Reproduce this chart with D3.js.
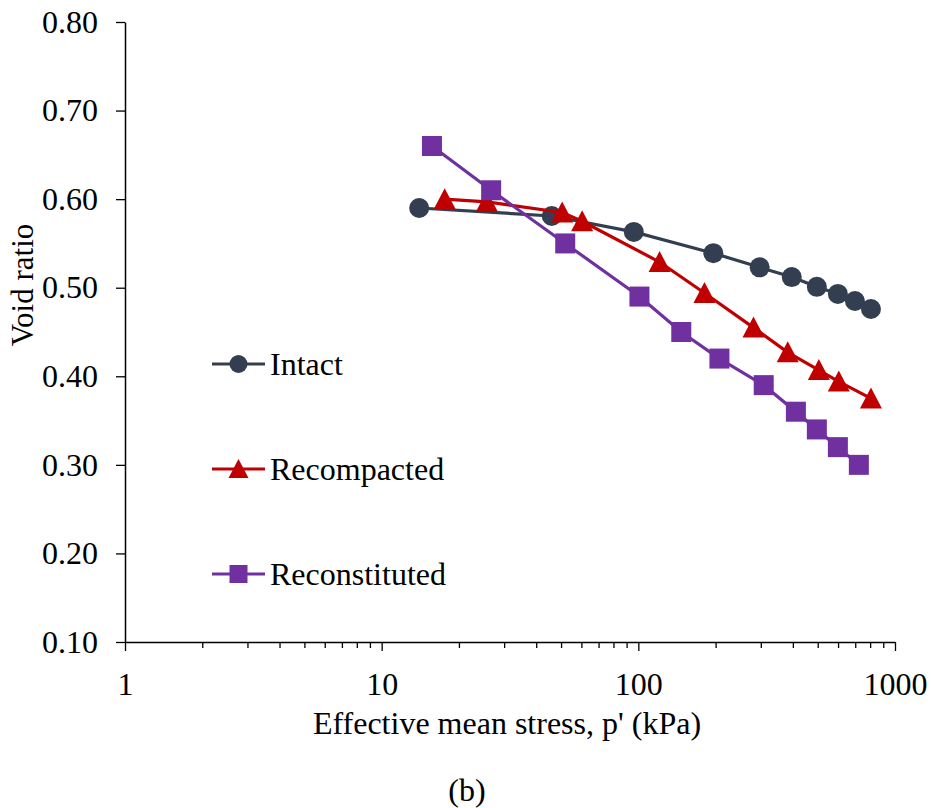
<!DOCTYPE html>
<html>
<head>
<meta charset="utf-8">
<script src="https://cdn.jsdelivr.net/npm/d3@7"></script>
<style>
  body { margin: 0; background: #fff; }
  svg { display: block; }
  text { font-family: "Liberation Serif", "Times New Roman", serif; fill: #000; }
</style>
</head>
<body>
<svg id="chart"></svg>
<script>
// data
const intactP = [14, 46, 96, 196, 297, 396, 496, 599, 698, 806];
const intactE = [0.590, 0.581, 0.563, 0.539, 0.523, 0.512, 0.501, 0.493, 0.485, 0.476];
const recompP = [17.6, 25.7, 50.5, 60.4, 121, 181, 281, 382, 505, 604, 806];
const recompE = [0.600, 0.597, 0.585, 0.575, 0.529, 0.494, 0.455, 0.427, 0.407, 0.394, 0.375];
const reconP = [15.7, 26.7, 51.9, 101, 147, 207, 308, 411, 496, 599, 723];
const reconE = [0.66, 0.61, 0.55, 0.49, 0.45, 0.42, 0.39, 0.36, 0.34, 0.32, 0.30];
const seriesNames = ["Intact", "Recompacted", "Reconstituted"];
const xTicks = [1, 10, 100, 1000];
const yTicks = [0.10, 0.20, 0.30, 0.40, 0.50, 0.60, 0.70, 0.80];

const W = 931, H = 808;
const plotL = 125, plotR = 895, plotT = 22, plotB = 642;

const svg = d3.select("#chart").attr("width", W).attr("height", H);

const x = d3.scaleLog().domain([1, 1000]).range([plotL, plotR]);
const y = d3.scaleLinear().domain([0.1, 0.8]).range([plotB, plotT]);

const series = [
  {name: seriesNames[0], p: intactP, e: intactE, color: "#333f50", shape: "circle"},
  {name: seriesNames[1], p: recompP, e: recompE, color: "#c00000", shape: "triangle"},
  {name: seriesNames[2], p: reconP, e: reconE, color: "#7030a0", shape: "square"}
];

// axes
const minor = [];
for (let d = 1; d < 1000; d *= 10) for (let k = 2; k <= 9; k++) minor.push(d * k);

svg.append("g").attr("transform", `translate(0,${plotB})`)
  .call(d3.axisBottom(x).tickValues(minor).tickSize(6).tickFormat(""))
  .call(g => g.select(".domain").remove())
  .selectAll("line").attr("stroke", "#000").attr("stroke-width", 1.3);

const xAxis = svg.append("g").attr("transform", `translate(0,${plotB})`)
  .call(d3.axisBottom(x).tickValues(xTicks).tickSize(9).tickSizeOuter(0).tickFormat(d3.format("d")));
xAxis.select(".domain").attr("stroke", "#000").attr("stroke-width", 1.5);
xAxis.selectAll("line").attr("stroke", "#000").attr("stroke-width", 1.3);
xAxis.selectAll("text").attr("font-size", 32).attr("y", 30).attr("dy", "0.71em")
  .style("font-family", "Liberation Serif");

const yAxis = svg.append("g").attr("transform", `translate(${plotL},0)`)
  .call(d3.axisLeft(y).tickValues(yTicks).tickSize(9).tickSizeOuter(0).tickFormat(d3.format(".2f")));
yAxis.select(".domain").attr("stroke", "#000").attr("stroke-width", 1.5);
yAxis.selectAll("line").attr("stroke", "#000").attr("stroke-width", 1.3);
yAxis.selectAll("text").attr("font-size", 32).attr("x", -27)
  .style("font-family", "Liberation Serif");

// titles
svg.append("text").attr("x", 507).attr("y", 734).attr("text-anchor", "middle")
  .attr("font-size", 32).text("Effective mean stress, p' (kPa)");
svg.append("text").attr("transform", "translate(33,285) rotate(-90)")
  .attr("text-anchor", "middle").attr("font-size", 31).text("Void ratio");
svg.append("text").attr("x", 467).attr("y", 801).attr("text-anchor", "middle")
  .attr("font-size", 32).text("(b)");

function marker(g, shape, color, size) {
  if (shape === "circle") {
    g.append("circle").attr("r", size / 2).attr("fill", color);
  } else if (shape === "square") {
    g.append("rect").attr("x", -size / 2).attr("y", -size / 2)
      .attr("width", size).attr("height", size).attr("fill", color);
  } else {
    const h = size;
    g.append("path").attr("d", `M0,${-h / 2 - 1}L${size / 2 + 1},${h / 2}L${-size / 2 - 1},${h / 2}Z`)
      .attr("fill", color);
  }
}

const line = d3.line().x(d => x(d[0])).y(d => y(d[1]));

series.forEach(s => {
  const pts = s.p.map((p, i) => [p, s.e[i]]);
  svg.append("path").datum(pts).attr("d", line)
    .attr("fill", "none").attr("stroke", s.color).attr("stroke-width", 3.2);
  pts.forEach(d => {
    const g = svg.append("g").attr("transform", `translate(${x(d[0])},${y(d[1])})`);
    marker(g, s.shape, s.color, 20);
  });
});

// legend
const legY = [364, 469, 574];
series.forEach((s, i) => {
  const g = svg.append("g").attr("transform", `translate(212,${legY[i]})`);
  g.append("line").attr("x1", 0).attr("x2", 53).attr("stroke", s.color).attr("stroke-width", 3.2);
  const m = g.append("g").attr("transform", "translate(26.5,0)");
  marker(m, s.shape, s.color, 18);
  g.append("text").attr("x", 58).attr("y", 11)
    .attr("font-size", 32).text(s.name);
});
</script>
</body>
</html>
